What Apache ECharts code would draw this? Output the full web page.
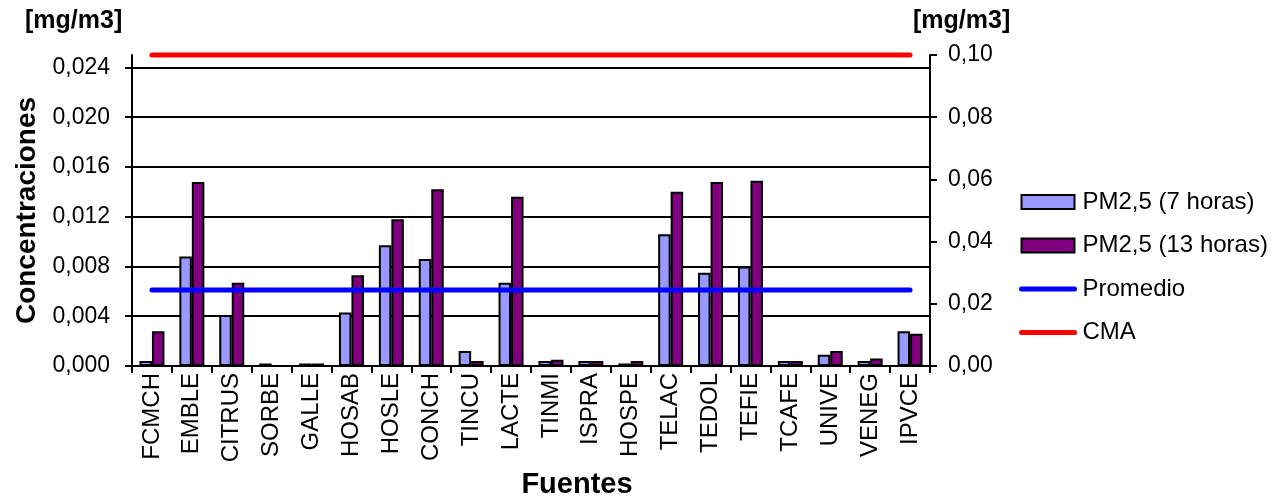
<!DOCTYPE html>
<html>
<head>
<meta charset="utf-8">
<script src="https://cdn.jsdelivr.net/npm/echarts@6/dist/echarts.min.js"></script>
<style>
  html, body { margin: 0; padding: 0; background: #fff; }
  #chart { width: 1285px; height: 497px; }
</style>
</head>
<body>
<div id="chart"></div>
<script>
// Monitoring sources (Fuentes)
const categories = ['FCMCH', 'EMBLE', 'CITRUS', 'SORBE', 'GALLE', 'HOSAB', 'HOSLE', 'CONCH', 'TINCU', 'LACTE',
  'TINMI', 'ISPRA', 'HOSPE', 'TELAC', 'TEDOL', 'TEFIE', 'TCAFE', 'UNIVE', 'VENEG', 'IPVCE'];

// PM2,5 concentrations [mg/m3]
const pm25_7h = [0.0004, 0.0088, 0.0041, 0.0002, 0.0002, 0.0043, 0.0097, 0.0086, 0.0012, 0.0067,
  0.0004, 0.0004, 0.0002, 0.0106, 0.0075, 0.0080, 0.0004, 0.0009, 0.0004, 0.0028];
const pm25_13h = [0.0028, 0.0148, 0.0067, 0.0000, 0.0002, 0.0073, 0.0118, 0.0142, 0.0004, 0.0136,
  0.0005, 0.0004, 0.0004, 0.0140, 0.0148, 0.0149, 0.0004, 0.0012, 0.0006, 0.0026];

// Reference levels [mg/m3]
const promedio = 0.0061;   // left axis
const cma = 0.10;          // right axis

// Axis tick values
const leftTicks = [0, 0.004, 0.008, 0.012, 0.016, 0.020, 0.024];
const rightTicks = [0, 0.02, 0.04, 0.06, 0.08, 0.10];

const FONT = 'Liberation Sans, Arial, sans-serif';
const fmt = (v, d) => v.toFixed(d).replace('.', ',');

// legend entry for a reference line: thick stroke, no marker
const lineLegend = (name, color) => ({
  name: name,
  lineStyle: { color: color, width: 5, cap: 'round' },
  itemStyle: { color: 'rgba(0,0,0,0)', borderWidth: 0, opacity: 0 }
});

const chart = echarts.init(document.getElementById('chart'));
chart.setOption({
  animation: false,
  backgroundColor: '#fff',
  title: [
    { text: '[mg/m3]', left: 25, top: 9, padding: 0,
      textStyle: { fontFamily: FONT, fontSize: 25, fontWeight: 'bold', color: '#000' } },
    { text: '[mg/m3]', left: 913, top: 9, padding: 0,
      textStyle: { fontFamily: FONT, fontSize: 25, fontWeight: 'bold', color: '#000' } }
  ],
  legend: {
    orient: 'vertical',
    left: 1019,
    top: 190,
    padding: 0,
    itemWidth: 53,
    itemHeight: 14,
    itemGap: 19.5,
    textStyle: { fontFamily: FONT, fontSize: 24, lineHeight: 24, color: '#000', padding: [0, 0, 0, 3] },
    data: [
      { name: 'PM2,5 (7 horas)', icon: 'rect' },
      { name: 'PM2,5 (13 horas)', icon: 'rect' },
      lineLegend('Promedio', '#0000ff'),
      lineLegend('CMA', '#ff0000')
    ]
  },
  grid: { left: 132, right: 355, top: 55, bottom: 131, outerBoundsMode: 'none', containLabel: false },
  xAxis: {
    type: 'category',
    data: categories,
    name: 'Fuentes',
    nameLocation: 'middle',
    nameGap: 100,
    nameTextStyle: { fontFamily: FONT, fontSize: 29, fontWeight: 'bold', color: '#000', padding: [0, 0, 0, 92] },
    axisLine: { lineStyle: { color: '#000', width: 2 } },
    axisTick: { show: true, alignWithLabel: false, length: 7, lineStyle: { color: '#000', width: 2 } },
    axisLabel: { rotate: 90, margin: 7, interval: 0, fontFamily: FONT, fontSize: 24, color: '#000' },
    splitLine: { show: false }
  },
  yAxis: [
    {
      type: 'value',
      min: 0,
      max: 0.025,
      interval: 0.004,
      name: 'Concentraciones',
      nameLocation: 'middle',
      nameGap: 90,
      nameRotate: 90,
      nameTextStyle: { fontFamily: FONT, fontSize: 28, fontWeight: 'bold', color: '#000' },
      axisLine: { show: true, lineStyle: { color: '#000', width: 2 } },
      axisTick: { show: true, length: 7, customValues: leftTicks, lineStyle: { color: '#000', width: 2 } },
      axisLabel: { margin: 22, customValues: leftTicks, fontFamily: FONT, fontSize: 23, color: '#000',
        formatter: v => fmt(v, 3) },
      splitLine: { show: true, lineStyle: { color: ['#000', '#000', '#000', '#000', '#000', '#000', '#000', '#c8c8c8'], width: 2 } }
    },
    {
      type: 'value',
      min: 0,
      max: 0.10,
      interval: 0.02,
      position: 'right',
      axisLine: { show: true, lineStyle: { color: '#000', width: 2 } },
      axisTick: { show: true, length: 7, customValues: rightTicks, lineStyle: { color: '#000', width: 2 } },
      axisLabel: { margin: 18, customValues: rightTicks, fontFamily: FONT, fontSize: 23, color: '#000',
        formatter: v => fmt(v, 2) },
      splitLine: { show: false }
    }
  ],
  series: [
    {
      name: 'PM2,5 (7 horas)',
      type: 'bar',
      data: pm25_7h,
      barWidth: 12.5,
      barGap: '0%',
      itemStyle: { color: '#9999ff', borderColor: '#000', borderWidth: 2 }
    },
    {
      name: 'PM2,5 (13 horas)',
      type: 'bar',
      data: pm25_13h,
      barWidth: 12.5,
      barGap: '0%',
      itemStyle: { color: '#800080', borderColor: '#000', borderWidth: 2 }
    },
    {
      name: 'Promedio',
      type: 'line',
      data: categories.map(() => promedio),
      symbol: 'none',
      clip: false,
      lineStyle: { color: '#0000ff', width: 5, cap: 'round' },
      itemStyle: { color: '#0000ff' }
    },
    {
      name: 'CMA',
      type: 'line',
      yAxisIndex: 1,
      data: categories.map(() => cma),
      symbol: 'none',
      clip: false,
      lineStyle: { color: '#ff0000', width: 5, cap: 'round' },
      itemStyle: { color: '#ff0000' }
    }
  ]
});
</script>
</body>
</html>
